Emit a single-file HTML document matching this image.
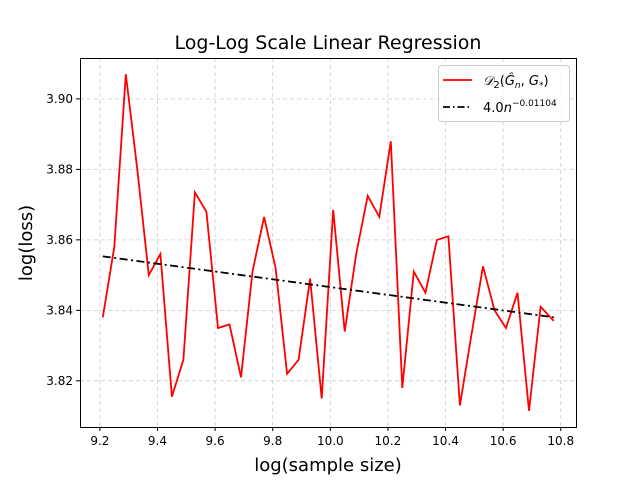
<!DOCTYPE html>
<html><head><meta charset="utf-8"><style>
html,body{margin:0;padding:0;background:#fff;}
svg{display:block;font-family:"DejaVu Sans","Liberation Sans",sans-serif;}
</style></head><body>
<svg id="chart" width="640" height="480" viewBox="0 0 640 480" xmlns="http://www.w3.org/2000/svg">
<rect width="640" height="480" fill="#fff"/>
<text x="328" y="49" font-size="19" text-anchor="middle" fill="#000">Log-Log Scale Linear Regression</text>
<g id="grid"></g>
<g id="series"></g>
<rect x="80.5" y="58.5" width="496" height="369" fill="none" stroke="#000" stroke-width="1"/>
<g id="ticks"></g>
<text x="328" y="471" font-size="18" text-anchor="middle">log(sample size)</text>
<text transform="translate(32,243) rotate(-90)" font-size="18" text-anchor="middle">log(loss)</text>
<g>
<rect x="438.5" y="65.5" width="131" height="56" rx="3" fill="#fff" fill-opacity="0.8" stroke="#ccc"/>
<line x1="443" y1="80" x2="472" y2="80" stroke="#f00" stroke-width="1.8"/>
<text x="483" y="85" font-size="13" font-style="italic">𝒟<tspan font-style="normal" font-size="10" dy="3">2</tspan><tspan dy="-3" font-style="normal">(</tspan>Ĝ<tspan font-size="9" dy="3">n</tspan><tspan dy="-3" font-style="normal">, </tspan>G<tspan font-size="9" dy="3" font-style="normal">*</tspan><tspan dy="-3" font-style="normal">)</tspan></text>
<line x1="443" y1="107" x2="472" y2="107" stroke="#000" stroke-width="1.8" stroke-dasharray="7,3,1.5,3"/>
<text x="483" y="112" font-size="13">4.0<tspan font-style="italic">n</tspan><tspan font-size="9" dy="-6">−0.01104</tspan></text>
</g>
</svg>
<script>
const xValues = [9.21,9.25,9.29,9.33,9.37,9.41,9.45,9.49,9.53,9.57,9.61,9.65,9.69,9.73,9.77,9.81,9.85,9.89,9.93,9.97,10.01,10.05,10.09,10.13,10.17,10.21,10.25,10.29,10.33,10.37,10.41,10.45,10.49,10.53,10.57,10.61,10.65,10.69,10.73,10.776];
const lossValues = [3.838,3.858,3.907,3.880,3.850,3.856,3.8155,3.826,3.8735,3.868,3.835,3.836,3.821,3.851,3.8665,3.852,3.822,3.826,3.849,3.815,3.8685,3.834,3.856,3.8725,3.8665,3.888,3.818,3.851,3.845,3.860,3.861,3.813,3.833,3.8525,3.840,3.835,3.845,3.8115,3.841,3.837];
const fitIntercept = 3.957;
const fitSlope = -0.01104;
const xTicks = [9.2,9.4,9.6,9.8,10.0,10.2,10.4,10.6,10.8];
const xTickLabels = ["9.2","9.4","9.6","9.8","10.0","10.2","10.4","10.6","10.8"];
const yTicks = [3.82,3.84,3.86,3.88,3.90];
const yTickLabels = ["3.82","3.84","3.86","3.88","3.90"];

const NS = "http://www.w3.org/2000/svg";
const X0 = 80, X1 = 576, Y0 = 58, Y1 = 427;
const xMin = 9.131, xMax = 10.853, yMin = 3.8069, yMax = 3.9116;
function xs(v){ return X0 + (v - xMin) / (xMax - xMin) * (X1 - X0); }
function ys(v){ return Y1 - (v - yMin) / (yMax - yMin) * (Y1 - Y0); }
function mk(tag, attrs, parent){ const e = document.createElementNS(NS, tag); for (const k in attrs) e.setAttribute(k, attrs[k]); parent.appendChild(e); return e; }

const grid = document.getElementById('grid'), ticks = document.getElementById('ticks'), series = document.getElementById('series');
xTicks.forEach((t, i) => {
  const x = xs(t);
  const g = mk('line', {x1:x, x2:x, y1:Y0, y2:Y1, stroke:'#ccc', 'stroke-dasharray':'4,3', 'stroke-width':0.8}, grid);
  
  
  const tk = mk('line', {x1:x, x2:x, y1:Y1, y2:Y1+4, stroke:'#000'}, ticks);
  
  
  const lb = mk('text', {x:x, y:Y1+18, 'font-size':12, 'text-anchor':'middle'}, ticks);
  lb.textContent = xTickLabels[i];
  
  
});
yTicks.forEach((t, i) => {
  const y = ys(t);
  const g = mk('line', {x1:X0, x2:X1, y1:y, y2:y, stroke:'#ccc', 'stroke-dasharray':'4,3', 'stroke-width':0.8}, grid);
  
  
  const tk = mk('line', {x1:X0-4, x2:X0, y1:y, y2:y, stroke:'#000'}, ticks);
  
  
  const lb = mk('text', {x:X0-7, y:y+4, 'font-size':12, 'text-anchor':'end'}, ticks);
  lb.textContent = yTickLabels[i];
  
  
});
const pts = xValues.map((x, i) => xs(x).toFixed(1) + ',' + ys(lossValues[i]).toFixed(1)).join(' ');
const pl = mk('polyline', {points:pts, fill:'none', stroke:'#f00', 'stroke-width':1.8, 'stroke-linejoin':'miter'}, series);


const xa = xValues[0], xb = xValues[xValues.length-1];
const fl = mk('line', {x1:xs(xa), y1:ys(fitIntercept + fitSlope*xa), x2:xs(xb), y2:ys(fitIntercept + fitSlope*xb), stroke:'#000', 'stroke-width':1.8, 'stroke-dasharray':'8,3.5,2,3.5'}, series);


</script>
</body></html>
